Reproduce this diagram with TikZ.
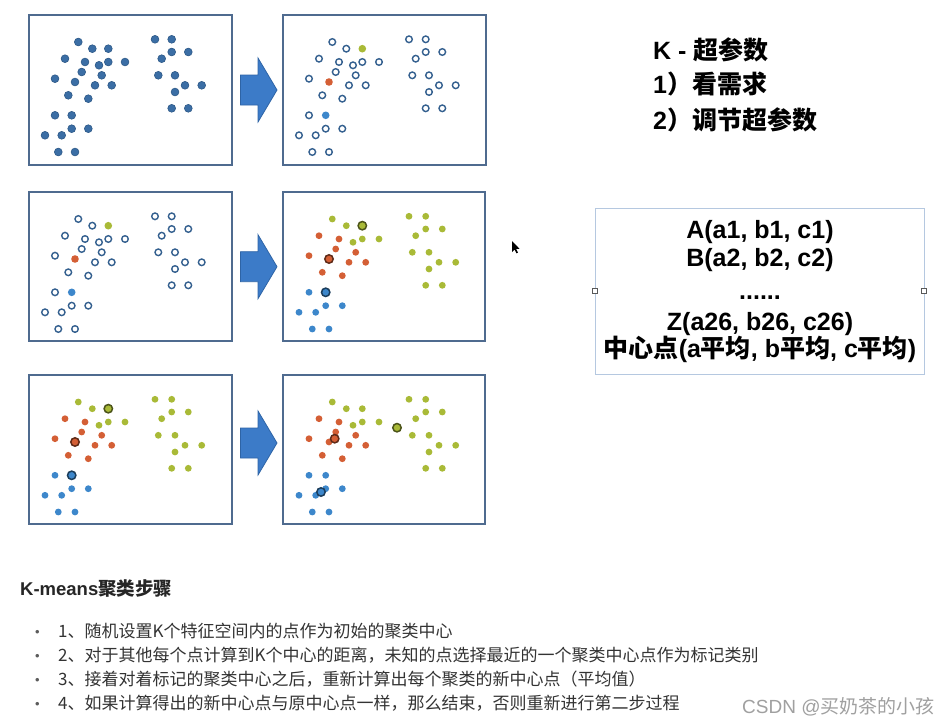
\documentclass[tikz,border=0pt]{standalone}
\usepackage{fontspec}
\setmainfont{Liberation Sans}
\newfontfamily\cjk{Noto Sans CJK SC}
\newcommand\zh[1]{{\cjk #1}}
\definecolor{panelc}{HTML}{4F6B8F}
\definecolor{dotfill}{HTML}{3B6EA5}
\definecolor{dotdraw}{HTML}{2D5987}
\definecolor{ringc}{HTML}{34608F}
\definecolor{redc}{HTML}{D45F35}
\definecolor{yelc}{HTML}{A9BA37}
\definecolor{bluc}{HTML}{3D87CB}
\definecolor{arrowfill}{HTML}{3C7BC8}
\definecolor{arrowdraw}{HTML}{2E64A6}
\definecolor{boxc}{HTML}{B5C8E0}
\definecolor{txtc}{HTML}{333333}
\definecolor{wmc}{HTML}{A0A0A0}
\def\leftpts{49.3/27,63.3/33.7,79.3/33.7,36/43.7,56/47,70/50.3,79.3/47,96/47,52.7/57,72.7/60.3,26/63.7,46/67,66/70.3,82.7/70.3,39.3/80.3,59.3/83.7,26/100.3,42.7/100.3,42.7/113.7,59.3/113.7,16/120.3,32.7/120.3,29.3/137,46/137}
\def\rightpts{126/24.3,142.7/24.3,142.7/37,159.3/37,132.7/43.7,129.3/60.3,146/60.3,156/70.3,172.7/70.3,146/77,142.7/93.3,159.3/93.3}
\def\ringpts{49.3/27,63.3/33.7,36/43.7,56/47,70/50.3,79.3/47,96/47,52.7/57,72.7/60.3,26/63.7,66/70.3,82.7/70.3,39.3/80.3,59.3/83.7,26/100.3,42.7/113.7,59.3/113.7,16/120.3,32.7/120.3,29.3/137,46/137}
\def\redpts{36/43.7,56/47,52.7/57,72.7/60.3,26/63.7,66/70.3,82.7/70.3,39.3/80.3,59.3/83.7}
\def\yelpts{49.3/27,63.3/33.7,70/50.3,79.3/47,96/47}
\def\blupts{26/100.3,42.7/113.7,59.3/113.7,16/120.3,32.7/120.3,29.3/137,46/137}
\tikzset{
  panel/.style={draw=panelc,line width=1.7pt,fill=white},
  bigdot/.style={fill=dotfill,draw=dotdraw,line width=0.6pt},
  ringdot/.style={fill=white,draw=ringc,line width=1.4pt},
  cdot/.style={fill=#1,draw=none},
  centre/.style={fill=#1,draw=#1!45!black,line width=1.5pt},
  bigarrow/.style={fill=arrowfill,draw=arrowdraw,line width=0.8pt},
  toptxt/.style={anchor=base west,inner sep=0pt,font=\bfseries\fontsize{25}{30}\selectfont},
  boxtxt/.style={anchor=base,inner sep=0pt,font=\bfseries\fontsize{25}{30}\selectfont},
  steptxt/.style={anchor=base west,inner sep=0pt,text=txtc,font=\fontsize{17}{20}\selectfont},
  bullettxt/.style={anchor=base west,inner sep=0pt,text=txtc!80!white,font=\fontsize{13}{16}\selectfont},
}
\newcommand\ringpanel{%
  \foreach \x/\y in \ringpts {\draw[ringdot] (\x,\y) circle (3.3);}
  \foreach \x/\y in \rightpts {\draw[ringdot] (\x,\y) circle (3.3);}
  \fill[yelc] (79.3,33.7) circle (3.8);
  \fill[redc] (46,67) circle (3.8);
  \fill[bluc] (42.7,100.3) circle (3.8);
}
\newcommand\colpanel{%
  \foreach \x/\y in \redpts {\fill[redc] (\x,\y) circle (3.4);}
  \foreach \x/\y in \yelpts {\fill[yelc] (\x,\y) circle (3.4);}
  \foreach \x/\y in \rightpts {\fill[yelc] (\x,\y) circle (3.4);}
  \foreach \x/\y in \blupts {\fill[bluc] (\x,\y) circle (3.4);}
}
\begin{document}
\begin{tikzpicture}[x=1pt,y=-1pt]
\useasboundingbox (0,0) rectangle (948,728);
\fill[white] (0,0) rectangle (948,728);

% panels
\draw[panel] (29,15) rectangle (232,165);
\draw[panel] (283,15) rectangle (486,165);
\draw[panel] (29,192) rectangle (232,341);
\draw[panel] (283,192) rectangle (485,341);
\draw[panel] (29,375) rectangle (232,524);
\draw[panel] (283,375) rectangle (485,524);

% panel 1
\begin{scope}[shift={(29,15)}]
  \foreach \x/\y in \leftpts {\draw[bigdot] (\x,\y) circle (3.9);}
  \foreach \x/\y in \rightpts {\draw[bigdot] (\x,\y) circle (3.9);}
\end{scope}
% panel 2
\begin{scope}[shift={(283,15)}]
  \ringpanel
\end{scope}
% panel 3
\begin{scope}[shift={(29,192)}]
  \ringpanel
\end{scope}
% panel 4
\begin{scope}[shift={(283,192)}]
  \colpanel
  \draw[centre=redc] (46,67) circle (4.2);
  \draw[centre=yelc] (79.3,33.7) circle (4.2);
  \draw[centre=bluc] (42.7,100.3) circle (4.2);
\end{scope}
% panel 5
\begin{scope}[shift={(29,375)}]
  \colpanel
  \draw[centre=redc] (46,67) circle (4.2);
  \draw[centre=yelc] (79.3,33.7) circle (4.2);
  \draw[centre=bluc] (42.7,100.3) circle (4.2);
\end{scope}
% panel 6
\begin{scope}[shift={(283,375)}]
  \colpanel
  \fill[redc] (46,67) circle (3.4);
  \fill[yelc] (79.3,33.7) circle (3.4);
  \fill[bluc] (42.7,100.3) circle (3.4);
  \draw[centre=redc] (51.7,63.7) circle (4.2);
  \draw[centre=yelc] (114,52.7) circle (4.2);
  \draw[centre=bluc] (38,117) circle (4.2);
\end{scope}

% arrows
\foreach \dy in {0,176.7,353} {
  \draw[bigarrow] (240.5,75+\dy) -- (258,75+\dy) -- (258,58+\dy) -- (277,90+\dy)
     -- (258,122+\dy) -- (258,105+\dy) -- (240.5,105+\dy) -- cycle;
}

% top-right text
\node[toptxt] (k) at (653,59) {K - \zh{超参数}};
\node[toptxt] (k1) at (653,93) {1\zh{）看需求}};
\node[toptxt] (k2) at (653,129.5) {2\zh{）调节超参数}};

% box
\draw[boxc,line width=0.9pt] (595,208) rectangle (924,374);
\draw[fill=white,draw=black!65,line width=0.5pt] (592.5,288.5) rectangle (597.5,293.5);
\draw[fill=white,draw=black!65,line width=0.5pt] (921.5,288.5) rectangle (926.5,293.5);
\node[boxtxt] (la) at (760,238.3) {A(a1, b1, c1)};
\node[boxtxt] (lb) at (760,266.7) {B(a2, b2, c2)};
\node[boxtxt] (ld) at (760,299) {......};
\node[boxtxt] (lz) at (760,330) {Z(a26, b26, c26)};
\node[boxtxt] (lc) at (760,357) {\zh{中心点}(a\zh{平均}, b\zh{平均}, c\zh{平均})};

% cursor
\fill[black] (512,241) -- (512,252) -- (514.6,249.5) -- (516.4,253.3) -- (518,252.6) -- (516.2,248.9) -- (519.6,248.9) -- cycle;

% bottom text
\node[anchor=base west,inner sep=0pt,text=black!85,font=\bfseries\fontsize{18.5}{22}\selectfont] (head) at (20,595) {K-means\zh{聚类步骤}};
\node[bullettxt] (b1) at (35,636) {•};
\node[bullettxt] (b2) at (35,660) {•};
\node[bullettxt] (b3) at (35,684) {•};
\node[bullettxt] (b4) at (35,708) {•};
\node[steptxt] (s1) at (58,637) {\zh{1、随机设置K个特征空间内的点作为初始的聚类中心}};
\node[steptxt] (s2) at (58,661) {\zh{2、对于其他每个点计算到K个中心的距离，未知的点选择最近的一个聚类中心点作为标记类别}};
\node[steptxt] (s3) at (58,685) {\zh{3、接着对着标记的聚类中心之后，重新计算出每个聚类的新中心点（平均值）}};
\node[steptxt] (s4) at (58,709) {\zh{4、如果计算得出的新中心点与原中心点一样，那么结束，否则重新进行第二步过程}};

% watermark
\node[anchor=base west,inner sep=0pt,text=wmc,font=\fontsize{19}{22}\selectfont] (wm) at (742,713) {CSDN @\zh{买奶茶的小孩}};
\end{tikzpicture}
\end{document}
